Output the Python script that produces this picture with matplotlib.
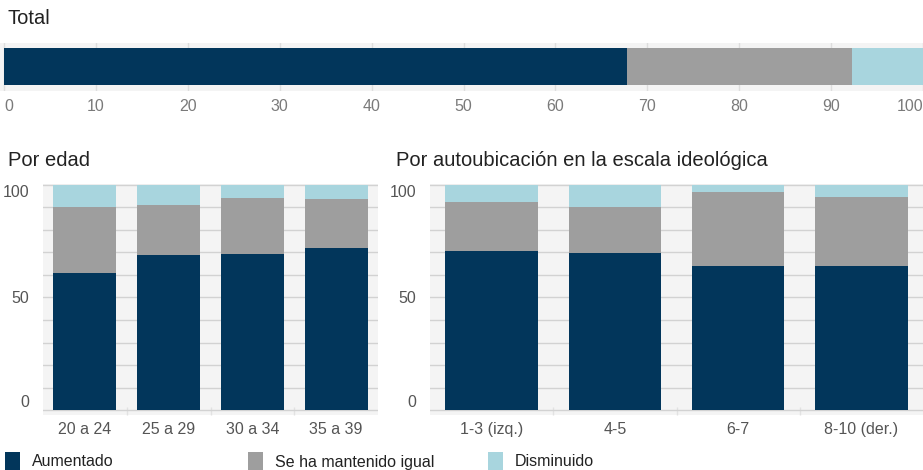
import matplotlib
matplotlib.use("Agg")
import matplotlib.pyplot as plt
from matplotlib.patches import Rectangle

plt.rcParams['font.family'] = ['Liberation Sans', 'DejaVu Sans']

# ---- data ----
series = ["Aumentado", "Se ha mantenido igual", "Disminuido"]
colors = ["#02365b", "#9e9e9e", "#a8d5de"]

total_vals = [67.8, 24.5, 7.7]
total_ticks = [0, 10, 20, 30, 40, 50, 60, 70, 80, 90, 100]

age_cats = ["20 a 24", "25 a 29", "30 a 34", "35 a 39"]
age_aum = [61.0, 68.8, 69.4, 71.8]
age_mant = [29.1, 22.4, 25.0, 21.8]
age_dism = [9.9, 8.8, 5.6, 6.4]

ideo_cats = ["1-3 (izq.)", "4-5", "6-7", "8-10 (der.)"]
ideo_aum = [70.5, 69.8, 63.9, 63.9]
ideo_mant = [22.0, 20.4, 32.8, 30.9]
ideo_dism = [7.5, 9.8, 3.3, 5.2]

panel_ticks = [0, 50, 100]

BG = "#f4f4f4"
GRID = "#d2d2d2"
W, H = 923, 470

fig = plt.figure(figsize=(W / 100, H / 100), dpi=100)


def fx(px):
    return px / W


def fy(px):
    return 1 - px / H


# ---- Total ----
ax0 = fig.add_axes([0, fy(91), 1, (91 - 43) / H])
ax0.set_facecolor(BG)
left = 0
for v, c in zip(total_vals, colors):
    ax0.barh([0], [v], left=[left], height=1.0, color=c, zorder=3, linewidth=0)
    left += v
ax0.set_xlim(-0.45, 100)
ax0.set_ylim(-0.65, 0.62)
ax0.set_yticks([])
ax0.set_xticks(total_ticks)
ax0.set_xticklabels([str(t) for t in total_ticks])
ax0.tick_params(axis='x', length=0, pad=6, labelsize=11.5, labelcolor="#7a7a7a")
ax0.grid(axis='x', color="#dedede", linewidth=1, zorder=1)
for s in ax0.spines.values():
    s.set_visible(False)
xl = ax0.get_xticklabels()
xl[0].set_ha('left')
xl[-1].set_ha('right')
fig.text(fx(8), fy(18), "Total", fontsize=14.5, color="#222222", va='center', ha='left')


def stacked_panel(rect, cats, aum, mant, dism, title, title_x):
    ax = fig.add_axes(rect)
    ax.set_facecolor(BG)
    x = list(range(len(cats)))
    bottoms = [0] * len(cats)
    for vals, c in zip([aum, mant, dism], colors):
        ax.bar(x, vals, bottom=bottoms, width=0.75, color=c, zorder=3, linewidth=0)
        bottoms = [b + v for b, v in zip(bottoms, vals)]
    ax.set_xlim(-0.5, len(cats) - 0.5)
    ax.set_ylim(-2.2, 100.4)
    ax.set_yticks(panel_ticks)
    ax.set_yticklabels([str(t) for t in panel_ticks])
    ax.set_yticks(range(10, 100, 10), minor=True)
    ax.set_xticks(x)
    ax.set_xticklabels(cats)
    ax.set_xticks([i + 0.5 for i in x[:-1]], minor=True)
    ax.tick_params(axis='both', which='both', length=0)
    ax.tick_params(axis='x', which='minor', length=6, direction='in', color="#e2e2e2", width=1)
    ax.tick_params(axis='x', pad=5, labelsize=11.5, labelcolor="#555555")
    ax.tick_params(axis='y', pad=10, labelsize=11.5, labelcolor="#555555")
    ax.grid(axis='y', which='both', color=GRID, linewidth=1, zorder=1)
    ax.grid(axis='x', visible=False)
    for s in ax.spines.values():
        s.set_visible(False)
    labs = ax.get_yticklabels()
    labs[0].set_va('bottom')
    labs[-1].set_va('top')
    fig.text(fx(title_x), fy(161), title, fontsize=14.5, color="#222222", va='center', ha='left')
    return ax


stacked_panel([fx(43), fy(415), (378 - 43) / W, (415 - 184) / H],
              age_cats, age_aum, age_mant, age_dism, "Por edad", 8)
stacked_panel([fx(430), fy(415), (923 - 430) / W, (415 - 184) / H],
              ideo_cats, ideo_aum, ideo_mant, ideo_dism,
              "Por autoubicación en la escala ideológica", 396)

# ---- legend ----
leg_x = [5, 248, 488]
for name, c, lx in zip(series, colors, leg_x):
    fig.patches.append(Rectangle((fx(lx), fy(471)), 15 / W, 19 / H,
                                 transform=fig.transFigure, color=c, linewidth=0))
    fig.text(fx(lx + 27), fy(462), name, fontsize=11.5, color="#222222", va='center', ha='left')

fig.savefig("out.png", dpi=100)
